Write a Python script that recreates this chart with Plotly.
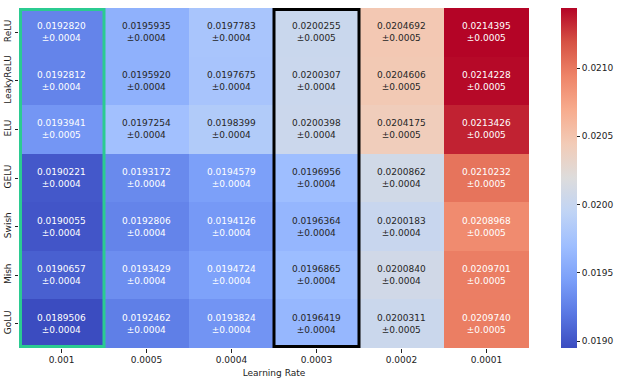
import plotly.graph_objects as go

# Mean loss per activation function and learning rate, with its spread
activations = ["ReLU", "LeakyReLU", "ELU", "GELU", "Swish", "Mish", "GoLU"]
learning_rates = ["0.001", "0.0005", "0.0004", "0.0003", "0.0002", "0.0001"]

mean_relu = [0.0192820, 0.0195935, 0.0197783, 0.0200255, 0.0204692, 0.0214395]
mean_leakyrelu = [0.0192812, 0.0195920, 0.0197675, 0.0200307, 0.0204606, 0.0214228]
mean_elu = [0.0193941, 0.0197254, 0.0198399, 0.0200398, 0.0204175, 0.0213426]
mean_gelu = [0.0190221, 0.0193172, 0.0194579, 0.0196956, 0.0200862, 0.0210232]
mean_swish = [0.0190055, 0.0192806, 0.0194126, 0.0196364, 0.0200183, 0.0208968]
mean_mish = [0.0190657, 0.0193429, 0.0194724, 0.0196865, 0.0200840, 0.0209701]
mean_golu = [0.0189506, 0.0192462, 0.0193824, 0.0196419, 0.0200311, 0.0209740]

std_relu = [0.0004, 0.0004, 0.0004, 0.0005, 0.0005, 0.0005]
std_leakyrelu = [0.0004, 0.0004, 0.0004, 0.0004, 0.0005, 0.0005]
std_elu = [0.0005, 0.0004, 0.0004, 0.0004, 0.0005, 0.0005]
std_gelu = [0.0004, 0.0004, 0.0004, 0.0004, 0.0004, 0.0005]
std_swish = [0.0004, 0.0004, 0.0004, 0.0004, 0.0004, 0.0005]
std_mish = [0.0004, 0.0004, 0.0004, 0.0004, 0.0004, 0.0005]
std_golu = [0.0004, 0.0004, 0.0004, 0.0004, 0.0005, 0.0005]

colorbar_ticks = [0.0190, 0.0195, 0.0200, 0.0205, 0.0210]
colorbar_ticklabels = ["0.0190", "0.0195", "0.0200", "0.0205", "0.0210"]

# Columns to outline: best learning rate (green) and the chosen one (black)
best_col = "0.001"
chosen_col = "0.0003"

means = [mean_relu, mean_leakyrelu, mean_elu, mean_gelu, mean_swish, mean_mish, mean_golu]
stds = [std_relu, std_leakyrelu, std_elu, std_gelu, std_swish, std_mish, std_golu]

coolwarm = [
    [0.0, "#3b4cc0"], [0.1, "#5977e3"], [0.2, "#7b9ff9"], [0.3, "#9ebeff"],
    [0.4, "#c0d4f5"], [0.5, "#dddcdc"], [0.6, "#f2cbb7"], [0.7, "#f7ac8e"],
    [0.8, "#ee8468"], [0.9, "#d65244"], [1.0, "#b40426"],
]

vmin = min(min(r) for r in means)
vmax = max(max(r) for r in means)


def cell_rgb(v):
    t = (v - vmin) / (vmax - vmin)
    for (p0, c0), (p1, c1) in zip(coolwarm[:-1], coolwarm[1:]):
        if p0 <= t <= p1:
            f = (t - p0) / (p1 - p0) if p1 > p0 else 0
            a = [int(c0[i:i + 2], 16) for i in (1, 3, 5)]
            b = [int(c1[i:i + 2], 16) for i in (1, 3, 5)]
            return [(a[k] + f * (b[k] - a[k])) / 255 for k in range(3)]
    return [0.5, 0.5, 0.5]


def luminance(rgb):
    lin = [c / 12.92 if c <= 0.03928 else ((c + 0.055) / 1.055) ** 2.4 for c in rgb]
    return 0.2126 * lin[0] + 0.7152 * lin[1] + 0.0722 * lin[2]


font_family = "DejaVu Sans"
n_rows = len(activations)
n_cols = len(learning_rates)

fig = go.Figure()
fig.add_trace(go.Heatmap(
    z=means,
    x=list(range(n_cols)),
    y=list(range(n_rows)),
    zmin=vmin,
    zmax=vmax,
    colorscale=coolwarm,
    showscale=True,
    hoverinfo="skip",
    colorbar=dict(
        x=1.0627, xanchor="left", xref="paper",
        y=0.5, yanchor="middle", len=1.0, lenmode="fraction",
        thickness=16, outlinewidth=0, ypad=0, xpad=0,
        tickvals=colorbar_ticks, ticktext=colorbar_ticklabels,
        ticks="outside", ticklen=3.5, tickwidth=0.8, tickcolor="#222",
        tickfont=dict(family=font_family, size=9, color="#222"),
    ),
))

# Value annotations with text colour picked for contrast against the cell
for i in range(n_rows):
    for j in range(n_cols):
        v = means[i][j]
        txt_color = "white" if luminance(cell_rgb(v)) < 0.408 else "#262626"
        fig.add_annotation(
            x=j, y=i, xref="x", yref="y",
            text=f"{v:.7f}<br>±{stds[i][j]:.4f}",
            showarrow=False,
            font=dict(family=font_family, size=9, color=txt_color),
        )

# small insets so outline strokes stay inside the plotting area, as if clipped
inset_x = 1.5 / 85
inset_y = 1.5 / 48.6


def outline(col, color):
    j = learning_rates.index(col)
    x0 = j - 0.5
    x1 = j + 0.5
    if j == 0:
        x0 += inset_x
    if j == n_cols - 1:
        x1 -= inset_x
    fig.add_shape(
        type="rect", xref="x", yref="y",
        x0=x0, x1=x1, y0=-0.5 + inset_y, y1=n_rows - 0.5 - inset_y,
        line=dict(color=color, width=3), fillcolor="rgba(0,0,0,0)",
    )


outline(best_col, "#2bcb91")
outline(chosen_col, "#000000")

fig.update_layout(
    width=625, height=386,
    margin=dict(l=19, r=96, t=8, b=38, autoexpand=False),
    paper_bgcolor="white", plot_bgcolor="white",
    font=dict(family=font_family, size=9, color="#222"),
    xaxis=dict(
        tickmode="array", tickvals=list(range(n_cols)), ticktext=learning_rates,
        showgrid=False, zeroline=False, showline=False, automargin=False,
        ticks="outside", ticklen=3.5, tickwidth=0.8, tickcolor="#222",
        tickfont=dict(family=font_family, size=9, color="#222"),
        title=dict(text="Learning Rate", font=dict(family=font_family, size=9, color="#222"), standoff=5),
        range=[-0.5, n_cols - 0.5],
    ),
    yaxis=dict(
        tickmode="array", tickvals=list(range(n_rows)), ticktext=activations,
        showgrid=False, zeroline=False, showline=False, automargin=False,
        ticks="outside", ticklen=3.5, tickwidth=0.8, tickcolor="#222",
        tickangle=-90,
        tickfont=dict(family=font_family, size=9, color="#222"),
        range=[n_rows - 0.5, -0.5],
    ),
)

fig.write_html("out.html")
